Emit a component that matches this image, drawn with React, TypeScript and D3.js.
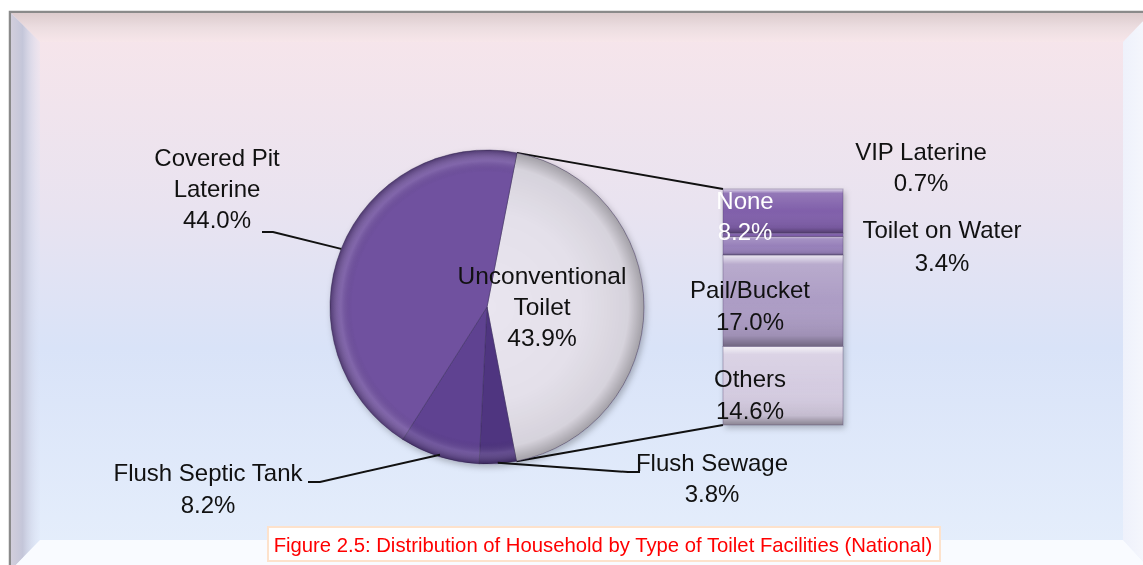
import React from "react";
import * as d3 from "d3";

const pieLabels = ["Unconventional Toilet", "Flush Sewage", "Flush Septic Tank", "Covered Pit Laterine"];
const pieValues = [43.9, 3.8, 8.2, 44.0];
const pieColors = ["#e9e5ef", "#4f3580", "#5e4391", "#6f519f"];

const barLabels = ["None", "VIP Laterine", "Toilet on Water", "Pail/Bucket", "Others"];
const barValues = [8.2, 0.7, 3.4, 17.0, 14.6];
const barColors = ["#8161ab", "#7c5ca8", "#9780ba", "#ad9dc5", "#d5cce1"];

const title = "Figure 2.5: Distribution of Household by Type of Toilet Facilities (National)";

const W = 1143, H = 565;
const cx = 487, cy = 307, R = 157;
const startA = (11 * Math.PI) / 180;
const barX = 723, barW = 120, barTop = 189, barBottom = 425;
const FONT = "'Liberation Sans', Arial, sans-serif";

function Lines({ x, y, lines, size = 24, fill = "#111", gap = 31 }: any) {
  return (
    <text x={x} y={y} textAnchor="middle" fontFamily={FONT} fontSize={size} fill={fill}>
      {lines.map((l: string, i: number) => (
        <tspan key={i} x={x} dy={i === 0 ? 0 : gap}>{l}</tspan>
      ))}
    </text>
  );
}

export default function App() {
  const pie = d3.pie<number>().sort(null).startAngle(startA).endAngle(startA + 2 * Math.PI);
  const arcs = pie(pieValues);
  const arc = d3.arc<d3.PieArcDatum<number>>().innerRadius(0).outerRadius(R);
  const rim = (a: number, r = R) => [cx + r * Math.sin(a), cy - r * Math.cos(a)];
  const mid = (d: d3.PieArcDatum<number>) => (d.startAngle + d.endAngle) / 2;

  const total = d3.sum(barValues);
  const y = d3.scaleLinear().domain([0, total]).range([barTop, barBottom]);
  const cum = barValues.map((_, i) => d3.sum(barValues.slice(0, i)));

  const uncon = arcs[0];
  const pTop = rim(uncon.startAngle);
  const pBot = rim(uncon.endAngle);
  const mCov = rim(mid(arcs[3]));
  const mSep = rim(mid(arcs[2]), R - 2);
  const mSew = rim(mid(arcs[1]), R - 1);

  const fmt = (v: number) => v.toFixed(1) + "%";

  return (
    <svg width={W} height={H} style={{ position: "absolute", left: 0, top: 0 }}>
      <defs>
        <linearGradient id="bg" x1="0" y1="0" x2="0" y2="1">
          <stop offset="0" stopColor="#f8e5ea" />
          <stop offset="0.35" stopColor="#e9e3f0" />
          <stop offset="0.6" stopColor="#d9e3f8" />
          <stop offset="1" stopColor="#e6effc" />
        </linearGradient>
        <linearGradient id="bvTop" x1="0" y1="0" x2="0" y2="1">
          <stop offset="0" stopColor="#dccbcd" />
          <stop offset="0.5" stopColor="#ecdde0" />
          <stop offset="1" stopColor="#f7e6ea" />
        </linearGradient>
        <linearGradient id="bvLeft" x1="0" y1="0" x2="1" y2="0">
          <stop offset="0" stopColor="#d2cedc" />
          <stop offset="0.4" stopColor="#c4c6d9" />
          <stop offset="1" stopColor="#dbe3f6" stopOpacity="0.2" />
        </linearGradient>
        <linearGradient id="bvRight" x1="0" y1="0" x2="1" y2="0">
          <stop offset="0" stopColor="#eef1fb" />
          <stop offset="1" stopColor="#f7f8fd" />
        </linearGradient>
        <radialGradient id="pieShade" cx={0} cy={0} r={R} gradientUnits="userSpaceOnUse">
          <stop offset="0" stopColor="#000" stopOpacity="0" />
          <stop offset="0.86" stopColor="#000" stopOpacity="0" />
          <stop offset="0.93" stopColor="#fff" stopOpacity="0.12" />
          <stop offset="1" stopColor="#000" stopOpacity="0.3" />
        </radialGradient>
        <radialGradient id="unconShade" cx={0} cy={0} r={R} gradientUnits="userSpaceOnUse">
          <stop offset="0" stopColor="#000" stopOpacity="0" />
          <stop offset="0.6" stopColor="#000" stopOpacity="0.02" />
          <stop offset="0.9" stopColor="#000" stopOpacity="0.08" />
          <stop offset="1" stopColor="#000" stopOpacity="0.3" />
        </radialGradient>
        <linearGradient id="segShade" x1="0" y1="0" x2="0" y2="1">
          <stop offset="0" stopColor="#fff" stopOpacity="0.75" />
          <stop offset="0.1" stopColor="#fff" stopOpacity="0.15" />
          <stop offset="0.5" stopColor="#fff" stopOpacity="0" />
          <stop offset="0.88" stopColor="#000" stopOpacity="0.08" />
          <stop offset="1" stopColor="#000" stopOpacity="0.35" />
        </linearGradient>
        <filter id="sh" x="-20%" y="-20%" width="140%" height="140%">
          <feDropShadow dx="2" dy="3" stdDeviation="3" floodColor="#000" floodOpacity="0.25" />
        </filter>
      </defs>

      {/* frame */}
      <rect x={10} y={12} width={1142} height={560} fill="url(#bg)" stroke="#8a8a8a" strokeWidth={2.5} />
      <polygon points="11,13 1151,13 1123,42 40,42" fill="url(#bvTop)" />
      <polygon points="11,13 40,42 40,540 11,570" fill="url(#bvLeft)" />
      <polygon points="1123,42 1151,13 1151,570 1123,540" fill="url(#bvRight)" />
      <polygon points="40,540 1123,540 1151,570 11,570" fill="#f9fbff" />

      {/* connector lines */}
      <line x1={pTop[0]} y1={pTop[1]} x2={barX} y2={barTop} stroke="#111" strokeWidth={2} />
      <line x1={pBot[0]} y1={pBot[1]} x2={barX} y2={barBottom} stroke="#111" strokeWidth={2} />

      {/* pie */}
      <g filter="url(#sh)">
        {arcs.map((d, i) => (
          <path key={i} d={arc(d) as string} transform={`translate(${cx},${cy})`} fill={pieColors[i]}
            stroke="#3a2a58" strokeOpacity={0.45} strokeWidth={1} />
        ))}
      </g>
      {arcs.map((d, i) => (
        <path key={"s" + i} d={arc(d) as string} transform={`translate(${cx},${cy})`}
          fill={i === 0 ? "url(#unconShade)" : "url(#pieShade)"} />
      ))}

      {/* bar */}
      <g filter="url(#sh)">
        {barValues.map((v, i) => (
          <rect key={i} x={barX} y={y(cum[i])} width={barW} height={y(cum[i] + v) - y(cum[i])}
            fill={barColors[i]} />
        ))}
      </g>
      {barValues.map((v, i) => (
        <rect key={"b" + i} x={barX} y={y(cum[i])} width={barW} height={y(cum[i] + v) - y(cum[i])}
          fill="url(#segShade)" stroke="#4a3a66" strokeOpacity={0.35} strokeWidth={1} />
      ))}

      {/* leader lines */}
      <polyline points={`262,232 273,232 ${mCov[0]},${mCov[1]}`} fill="none" stroke="#111" strokeWidth={2} />
      <polyline points={`308,482 320,482 ${mSep[0]},${mSep[1]}`} fill="none" stroke="#111" strokeWidth={2} />
      <polyline points={`${mSew[0]},${mSew[1]} 628,472 640,472`} fill="none" stroke="#111" strokeWidth={2} />

      {/* pie labels */}
      <Lines x={542} y={284} size={24.5} lines={["Unconventional", "Toilet", fmt(pieValues[0])]} />
      <Lines x={217} y={166} lines={["Covered Pit", "Laterine", fmt(pieValues[3])]} />
      <Lines x={208} y={481} gap={32} lines={[pieLabels[2], fmt(pieValues[2])]} />
      <Lines x={712} y={471} gap={31} lines={[pieLabels[1], fmt(pieValues[1])]} />

      {/* bar labels */}
      <Lines x={745} y={209} fill="#ffffff" lines={[barLabels[0], fmt(barValues[0])]} />
      <Lines x={921} y={160} lines={["VIP Laterine", fmt(barValues[1])]} />
      <Lines x={942} y={238} gap={33} lines={[barLabels[2], fmt(barValues[2])]} />
      <Lines x={750} y={298} gap={32} lines={[barLabels[3], fmt(barValues[3])]} />
      <Lines x={750} y={387} gap={32} lines={[barLabels[4], fmt(barValues[4])]} />

      {/* caption */}
      <rect x={268} y={527} width={672} height={34} fill="#ffffff" stroke="#fde2cc" strokeWidth={2} />
      <text x={603} y={552} textAnchor="middle" fontFamily={FONT} fontSize={20.3} fill="#ff0000">{title}</text>
    </svg>
  );
}
